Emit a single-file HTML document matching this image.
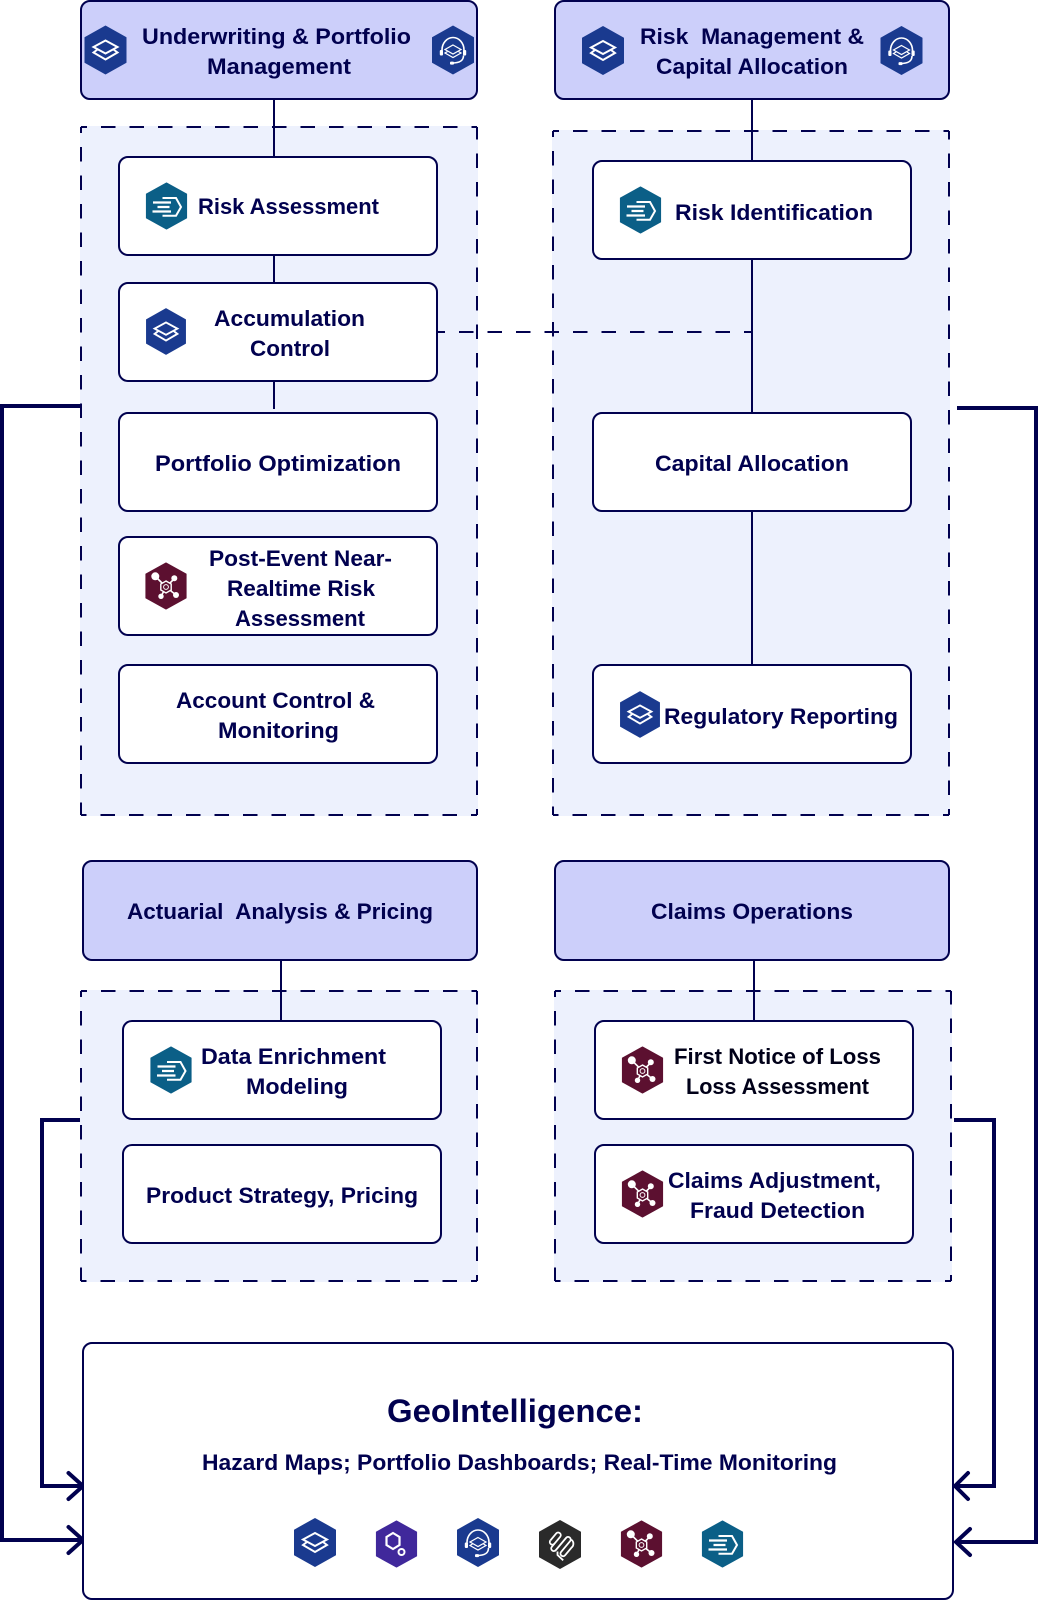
<!DOCTYPE html>
<html lang="en">
<head>
<meta charset="utf-8">
<title>GeoIntelligence diagram</title>
<style>
html,body{margin:0;padding:0;background:#fff;width:1038px;height:1600px;overflow:hidden}
svg{display:block}
text{font-family:"Liberation Sans",sans-serif;font-weight:700;fill:#01014f;font-size:22px}
.hd{fill:#cccffa;stroke:#01014f;stroke-width:2}
.nd{fill:#fff;stroke:#01014f;stroke-width:2}
.gf{fill:#edf1fd;stroke:none}
.gd{fill:none;stroke:#01014f;stroke-width:2;stroke-dasharray:14.5 14;stroke-dashoffset:8.5}
.ln{fill:none;stroke:#01014f;stroke-width:2}
.th{fill:none;stroke:#01014f;stroke-width:4}
.ar{fill:none;stroke:#01014f;stroke-width:4;stroke-linecap:round;stroke-linejoin:miter}
.w{fill:none;stroke:#fff;stroke-linejoin:miter}
.wf{fill:#fff;stroke:none}
</style>
</head>
<body>
<svg width="1038" height="1600" viewBox="0 0 1038 1600" xmlns="http://www.w3.org/2000/svg">
<defs>
  <polygon id="hx" points="0,-24 20.5,-12.5 20.5,12.5 0,24 -20.5,12.5 -20.5,-12.5" stroke-width="1" stroke-linejoin="round"/>
  <g id="layers">
    <use href="#hx" fill="#1a3a8f" stroke="#1a3a8f"/>
    <path class="w" stroke-width="2" d="M0,-9.5 L12,-3 L0,3.5 L-12,-3 Z"/>
    <path class="w" stroke-width="2" d="M-8,-0.5 L-12,2.5 L0,9.5 L12,2.5 L8,-0.5"/>
  </g>
  <g id="headset">
    <use href="#hx" fill="#1a3a8f" stroke="#1a3a8f"/>
    <path class="w" stroke-width="1.6" d="M-11,2 V0 A11,12.5 0 0 1 11,0 V2"/>
    <rect x="-13.2" y="0" width="3.2" height="5.5" rx="1" class="wf"/>
    <rect x="10" y="0" width="3.2" height="5.5" rx="1" class="wf"/>
    <path class="w" stroke-width="1.6" d="M10.5,5.5 C10.5,10.5 7,13 -1,13"/>
    <rect x="-3" y="11.6" width="4" height="3" rx="1" class="wf"/>
    <path class="w" stroke-width="1.2" d="M0,-5 L8,-0.5 L0,4 L-8,-0.5 Z"/>
    <path class="w" stroke-width="1.2" d="M-5.5,1.5 L-8,3 L0,7.5 L8,3 L5.5,1.5"/>
  </g>
  <g id="speed">
    <use href="#hx" fill="#0b5f87" stroke="#0b5f87" transform="scale(.98,.96)"/>
    <path class="w" stroke-width="2" d="M-4,-8 H9.5 L14.5,1 L9.5,9.7 H-4"/>
    <path class="w" stroke-width="2.2" d="M-13.5,-3.5 H4.5 M-9,1 H3 M-14,5.5 H4.5"/>
  </g>
  <g id="net">
    <use href="#hx" fill="#5c1030" stroke="#5c1030" transform="scale(.98,.96)"/>
    <path class="w" stroke-width="1.6" d="M0,1 L-10.5,-9.5 M0,1 L8.5,-7.5 M0,1 L-5,10.5 M0,1 L10,9"/>
    <circle cx="-10.7" cy="-9.7" r="4" class="wf"/>
    <circle cx="8.3" cy="-7.7" r="3" class="wf"/>
    <circle cx="-5" cy="10.3" r="2.7" class="wf"/>
    <circle cx="10" cy="9" r="3" class="wf"/>
    <polygon points="0,-5 5.2,-2 5.2,4 0,7 -5.2,4 -5.2,-2" fill="#5c1030" stroke="#fff" stroke-width="1.4"/>
    <circle cy="1" r="2.4" fill="none" stroke="#fff" stroke-width="1"/>
  </g>
  <g id="purple">
    <use href="#hx" fill="#40289b" stroke="#40289b" transform="scale(.98,.96)"/>
    <polygon class="w" stroke-width="2.2" points="-3.5,-11 3,-7 3,1 -3.5,5 -10,1 -10,-7"/>
    <circle cx="5" cy="8" r="3" class="w" stroke-width="2"/>
  </g>
  <g id="coil">
    <use href="#hx" fill="#2a2a2a" stroke="#2a2a2a"/>
    <g transform="rotate(40)" fill="none" stroke="#fff" stroke-width="1.8">
      <path d="M-10,3 V-6 A2.6,2.6 0 0 1 -4.8,-6 V7 A2.6,2.6 0 0 0 0.4,7 V-9 A2.6,2.6 0 0 1 5.6,-9 V5 A2.6,2.6 0 0 0 10.8,5 V-5 A5,5 0 0 0 5.6,-11"/>
      <path d="M-10,3 A2.6,2.6 0 0 0 -4.8,3"/>
    </g>
    <path fill="none" stroke="#fff" stroke-width="1.8" d="M-2.5,7 L-2.5,10.5 L3.2,15.8"/>
  </g>
</defs>

<!-- thick connectors -->
<path class="th" d="M81,406 H2 V1540 H81"/>
<path class="ar" d="M68.5,1527 L83,1540 L68.5,1553"/>
<path class="th" d="M80,1120 H42 V1486 H81"/>
<path class="ar" d="M68.5,1473 L83,1486 L68.5,1499"/>
<path class="th" d="M957,408 H1036 V1542 H957"/>
<path class="ar" d="M970,1529 L956,1542 L970,1555"/>
<path class="th" d="M954,1120 H994 V1486 H955"/>
<path class="ar" d="M968,1473 L955,1486 L968,1499"/>

<!-- groups -->
<rect class="gf" x="80" y="126" width="398" height="690"/>
<path class="gd" d="M81,127 H477 M81,127 V815 M477,815 H81 M477,815 V127"/>
<rect class="gf" x="552" y="130" width="398" height="686"/>
<path class="gd" d="M553,131 H949 M553,131 V815 M949,815 H553 M949,815 V131"/>
<rect class="gf" x="80" y="990" width="398" height="292"/>
<path class="gd" d="M81,991 H477 M81,991 V1281 M477,1281 H81 M477,1281 V991"/>
<rect class="gf" x="554" y="990" width="398" height="292"/>
<path class="gd" d="M555,991 H951 M555,991 V1281 M951,1281 H555 M951,1281 V991"/>

<!-- thin connectors -->
<path class="ln" d="M274,95 V157 M274,255 V283 M274,381 V409"/>
<path class="ln" d="M752,99 V161 M752,259 V413 M752,511 V665"/>
<path class="ln" d="M281,960 V1021 M754,960 V1021"/>
<path class="ln" stroke-dasharray="14.5 14" stroke-dashoffset="6.5" d="M437,332 H752"/>

<!-- headers -->
<rect class="hd" x="81" y="1" width="396" height="98" rx="9"/>
<rect class="hd" x="555" y="1" width="394" height="98" rx="9"/>
<rect class="hd" x="83" y="861" width="394" height="99" rx="9"/>
<rect class="hd" x="555" y="861" width="394" height="99" rx="9"/>

<!-- nodes -->
<rect class="nd" x="119" y="157" width="318" height="98" rx="9"/>
<rect class="nd" x="119" y="283" width="318" height="98" rx="9"/>
<rect class="nd" x="119" y="413" width="318" height="98" rx="9"/>
<rect class="nd" x="119" y="537" width="318" height="98" rx="9"/>
<rect class="nd" x="119" y="665" width="318" height="98" rx="9"/>
<rect class="nd" x="593" y="161" width="318" height="98" rx="9"/>
<rect class="nd" x="593" y="413" width="318" height="98" rx="9"/>
<rect class="nd" x="593" y="665" width="318" height="98" rx="9"/>
<rect class="nd" x="123" y="1021" width="318" height="98" rx="9"/>
<rect class="nd" x="123" y="1145" width="318" height="98" rx="9"/>
<rect class="nd" x="595" y="1021" width="318" height="98" rx="9"/>
<rect class="nd" x="595" y="1145" width="318" height="98" rx="9"/>
<rect class="nd" x="83" y="1343" width="870" height="256" rx="9"/>

<!-- icons -->
<use href="#layers" x="105.5" y="50"/>
<use href="#headset" x="453" y="50"/>
<use href="#layers" x="603" y="50.5"/>
<use href="#headset" x="901.5" y="50.5"/>
<use href="#speed" x="166.5" y="206"/>
<use href="#layers" transform="translate(166,331.5) scale(.95)"/>
<use href="#net" x="166" y="586"/>
<use href="#speed" x="640.5" y="210"/>
<use href="#layers" transform="translate(640,714.5) scale(.95)"/>
<use href="#speed" x="171" y="1070"/>
<use href="#net" x="642.5" y="1070"/>
<use href="#net" x="642.5" y="1194"/>
<use href="#layers" x="315" y="1542.5"/>
<use href="#purple" x="396.5" y="1544"/>
<use href="#headset" x="478" y="1542.5"/>
<use href="#coil" x="560" y="1544.5"/>
<use href="#net" x="641.5" y="1544"/>
<use href="#speed" x="722.5" y="1544"/>

<!-- labels -->
<text x="142" y="44" textLength="269" lengthAdjust="spacingAndGlyphs">Underwriting &amp; Portfolio</text>
<text x="207" y="74" textLength="144" lengthAdjust="spacingAndGlyphs">Management</text>
<text x="640" y="44" textLength="224" lengthAdjust="spacingAndGlyphs" xml:space="preserve">Risk  Management &amp;</text>
<text x="656" y="74" textLength="192" lengthAdjust="spacingAndGlyphs">Capital Allocation</text>
<text x="198" y="214" textLength="181" lengthAdjust="spacingAndGlyphs">Risk Assessment</text>
<text x="214" y="326" textLength="151" lengthAdjust="spacingAndGlyphs">Accumulation</text>
<text x="250" y="356" textLength="80" lengthAdjust="spacingAndGlyphs">Control</text>
<text x="155" y="471" textLength="246" lengthAdjust="spacingAndGlyphs">Portfolio Optimization</text>
<text x="209" y="566" textLength="183" lengthAdjust="spacingAndGlyphs">Post-Event Near-</text>
<text x="227" y="596" textLength="148" lengthAdjust="spacingAndGlyphs">Realtime Risk</text>
<text x="235" y="626" textLength="130" lengthAdjust="spacingAndGlyphs">Assessment</text>
<text x="176" y="708" textLength="199" lengthAdjust="spacingAndGlyphs">Account Control &amp;</text>
<text x="218" y="738" textLength="121" lengthAdjust="spacingAndGlyphs">Monitoring</text>
<text x="675" y="220" textLength="198" lengthAdjust="spacingAndGlyphs">Risk Identification</text>
<text x="655" y="471" textLength="194" lengthAdjust="spacingAndGlyphs">Capital Allocation</text>
<text x="664" y="724" textLength="234" lengthAdjust="spacingAndGlyphs">Regulatory Reporting</text>
<text x="127" y="919" textLength="306" lengthAdjust="spacingAndGlyphs" xml:space="preserve">Actuarial  Analysis &amp; Pricing</text>
<text x="651" y="919" textLength="202" lengthAdjust="spacingAndGlyphs">Claims Operations</text>
<text x="201" y="1064" textLength="185" lengthAdjust="spacingAndGlyphs">Data Enrichment</text>
<text x="246" y="1094" textLength="102" lengthAdjust="spacingAndGlyphs">Modeling</text>
<text x="146" y="1203" textLength="272" lengthAdjust="spacingAndGlyphs">Product Strategy, Pricing</text>
<text x="674" y="1064" textLength="207" lengthAdjust="spacingAndGlyphs" style="fill:#000018">First Notice of Loss</text>
<text x="686" y="1094" textLength="183" lengthAdjust="spacingAndGlyphs" style="fill:#000018">Loss Assessment</text>
<text x="668" y="1188" textLength="213" lengthAdjust="spacingAndGlyphs">Claims Adjustment,</text>
<text x="690" y="1218" textLength="175" lengthAdjust="spacingAndGlyphs">Fraud Detection</text>
<text x="387" y="1422" textLength="256" lengthAdjust="spacingAndGlyphs" style="font-size:32px">GeoIntelligence:</text>
<text x="202" y="1470" textLength="635" lengthAdjust="spacingAndGlyphs">Hazard Maps; Portfolio Dashboards; Real-Time Monitoring</text>
</svg>
</body>
</html>
